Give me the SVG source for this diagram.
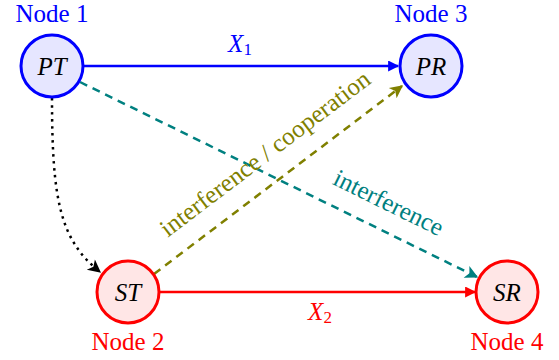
<svg xmlns="http://www.w3.org/2000/svg" width="559" height="360" viewBox="0 0 559 360">
<defs>
<marker id="aB" viewBox="0 0 10 10" refX="9" refY="5" markerWidth="13" markerHeight="11" orient="auto" markerUnits="userSpaceOnUse"><path d="M0,0 L10,5 L0,10 z" fill="#0000ff"/></marker>
<marker id="aR" viewBox="0 0 10 10" refX="9" refY="5" markerWidth="13" markerHeight="11" orient="auto" markerUnits="userSpaceOnUse"><path d="M0,0 L10,5 L0,10 z" fill="#ff0000"/></marker>
<marker id="aK" viewBox="0 0 10 10" refX="9" refY="5" markerWidth="15" markerHeight="13" orient="auto" markerUnits="userSpaceOnUse"><path d="M0,0 L10,5 L0,10 L2.5,5 z" fill="#000"/></marker>
<marker id="aT" viewBox="0 0 10 10" refX="9" refY="5" markerWidth="15" markerHeight="13" orient="auto" markerUnits="userSpaceOnUse"><path d="M0,0 L10,5 L0,10 L2.5,5 z" fill="#008080"/></marker>
<marker id="aO" viewBox="0 0 10 10" refX="9" refY="5" markerWidth="15" markerHeight="13" orient="auto" markerUnits="userSpaceOnUse"><path d="M0,0 L10,5 L0,10 L2.5,5 z" fill="#808000"/></marker>
</defs>
<style>
text{font-family:"Liberation Serif",serif}
.lbl{font-size:25px;text-anchor:middle}
.m{font-size:25px;font-style:italic;text-anchor:middle;fill:#000}
.bn circle{fill:#e6e6ff;stroke:#0000ff;stroke-width:3}
.rn circle{fill:#ffe6e6;stroke:#ff0000;stroke-width:3}
.e{fill:none;stroke-width:2.5}
</style>
<g id="connectors">
<line class="e" x1="84" y1="66" x2="398" y2="66" stroke="#0000ff" marker-end="url(#aB)"/>
<text x="240" y="52" class="lbl" fill="#0000ff" font-family="Liberation Serif" font-style="italic">X<tspan font-size="17" dy="3" font-style="normal">1</tspan></text>
<line class="e" x1="160" y1="292" x2="475" y2="292" stroke="#ff0000" marker-end="url(#aR)"/>
<text x="320" y="320" class="lbl" fill="#ff0000" font-family="Liberation Serif" font-style="italic">X<tspan font-size="17" dy="3" font-style="normal">2</tspan></text>
<path class="e" d="M52,98 C52,200 60,240 100,272" stroke="#000" stroke-dasharray="2.5,4.5" marker-end="url(#aK)"/>
<line class="e" x1="80" y1="82" x2="477" y2="277" stroke="#008080" stroke-dasharray="8,6" marker-end="url(#aT)"/>
<text class="lbl" fill="#008080" font-family="Liberation Serif" transform="translate(385,210) rotate(26.2)">interference</text>
<line class="e" x1="154" y1="274" x2="402" y2="86" stroke="#808000" stroke-dasharray="8,6" marker-end="url(#aO)"/>
<text class="lbl" fill="#808000" font-family="Liberation Serif" transform="translate(270,160) rotate(-37.2)">interference / cooperation</text>
</g>
<g id="node1" class="bn"><circle cx="52" cy="66" r="31"/><text class="m" x="52" y="75" font-family="Liberation Serif">PT</text><text class="lbl" x="52" y="22" fill="#0000ff" font-family="Liberation Serif">Node 1</text></g>
<g id="node3" class="bn"><circle cx="431" cy="66" r="31"/><text class="m" x="431" y="75" font-family="Liberation Serif">PR</text><text class="lbl" x="431" y="22" fill="#0000ff" font-family="Liberation Serif">Node 3</text></g>
<g id="node2" class="rn"><circle cx="128" cy="292" r="31"/><text class="m" x="128" y="301" font-family="Liberation Serif">ST</text><text class="lbl" x="128" y="350" fill="#ff0000" font-family="Liberation Serif">Node 2</text></g>
<g id="node4" class="rn"><circle cx="507" cy="292" r="31"/><text class="m" x="507" y="301" font-family="Liberation Serif">SR</text><text class="lbl" x="507" y="350" fill="#ff0000" font-family="Liberation Serif">Node 4</text></g>
</svg>
